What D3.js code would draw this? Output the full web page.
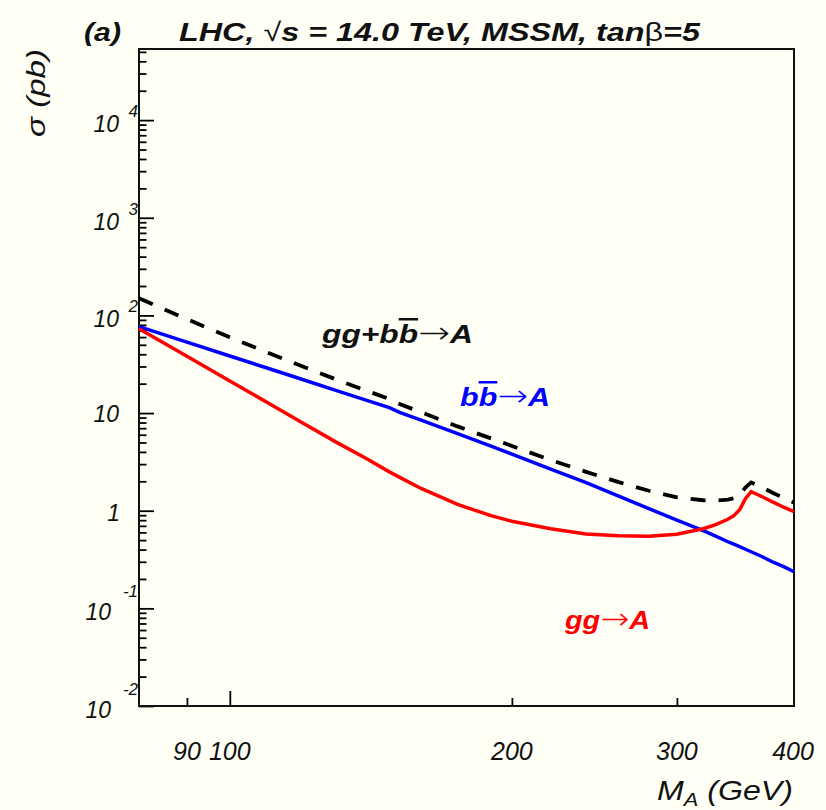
<!DOCTYPE html>
<html><head><meta charset="utf-8">
<script src="https://cdn.jsdelivr.net/npm/d3@7"></script>
<style>body{margin:0;background:#fffff6;} svg{display:block;}</style>
</head><body><svg id="c" width="826" height="810"></svg>
<script>
// ---------------- data ----------------
const massGeV  = [80, 90, 100, 110, 120, 130, 140, 148, 152, 160, 175, 190, 200, 220, 240, 260, 280, 300, 320, 330, 340, 345, 350, 355, 360, 370, 380, 390, 400];
const sigmaBB  = [76.8, 53.3, 38.4, 28.6, 21.8, 17.0, 13.5, 11.36, 10.1, 8.46, 6.15, 4.58, 3.79, 2.66, 1.94, 1.41, 1.05, 0.80, 0.624, 0.548, 0.481, 0.454, 0.428, 0.403, 0.380, 0.338, 0.297, 0.267, 0.237];
const sigmaGG  = [73.2, 38.2, 21.3, 12.6, 7.79, 5.01, 3.41, 2.50, 2.18, 1.69, 1.16, 0.889, 0.779, 0.654, 0.578, 0.554, 0.548, 0.574, 0.654, 0.719, 0.818, 0.889, 1.024, 1.327, 1.566, 1.391, 1.222, 1.086, 0.977];
const sigmaTot = [150, 91.5, 59.7, 41.2, 29.6, 22.0, 16.9, 13.9, 12.3, 10.2, 7.3, 5.5, 4.6, 3.3, 2.5, 1.96, 1.6, 1.37, 1.28, 1.27, 1.30, 1.34, 1.45, 1.73, 1.95, 1.73, 1.52, 1.35, 1.21];
const xTickLabels = [90, 100, 200, 300, 400];
const xMajorTicks = [100];
const xMinorTicks = [90, 200, 300];
const yDecades = [-2, -1, 0, 1, 2, 3, 4];

// ---------------- layout ----------------
const W = 826, H = 810;
const L = 139, R = 794, T = 49, B = 706;
const FONT = "'Liberation Sans', Arial, Helvetica, sans-serif";
const svg = d3.select('#c');
svg.append('rect').attr('width', W).attr('height', H).attr('fill', '#fffff6');

const x = d3.scaleLog().domain([80, 400]).range([L, R]);
const y = d3.scaleLog().domain([0.01, 5.35e4]).range([B, T]);

// minor y ticks
const yMinor = [];
yDecades.forEach(e => { for (let k = 2; k <= 9; k++) { const v = k * Math.pow(10, e); if (v <= y.domain()[1]) yMinor.push(v); } });
const yMajor = yDecades.map(e => Math.pow(10, e));

function styleAxis(g) {
  g.select('.domain').remove();
  g.selectAll('.tick line').attr('stroke', '#000').attr('stroke-width', 1.8);
}
svg.append('g').attr('transform', `translate(${L},0)`)
  .call(d3.axisLeft(y).tickValues(yMajor).tickSize(-15).tickFormat(''))
  .call(styleAxis);
svg.append('g').attr('transform', `translate(${L},0)`)
  .call(d3.axisLeft(y).tickValues(yMinor).tickSize(-7.5).tickFormat(''))
  .call(styleAxis);
svg.append('g').attr('transform', `translate(0,${B})`)
  .call(d3.axisBottom(x).tickValues(xMajorTicks).tickSize(-15).tickFormat(''))
  .call(styleAxis);
svg.append('g').attr('transform', `translate(0,${B})`)
  .call(d3.axisBottom(x).tickValues(xMinorTicks).tickSize(-8).tickFormat(''))
  .call(styleAxis);

// frame
svg.append('rect').attr('x', L).attr('y', T).attr('width', R - L).attr('height', B - T)
  .attr('fill', 'none').attr('stroke', '#111').attr('stroke-width', 2);

// y tick labels
yDecades.forEach(e => {
  const ty = y(Math.pow(10, e));
  const g = svg.append('g').attr('font-family', FONT).attr('font-style', 'italic').attr('fill', '#111');
  if (e === 0) {
    g.append('text').attr('x', 120).attr('y', ty + 10).attr('text-anchor', 'end').attr('font-size', 23).text('1');
  } else if (e === 1) {
    g.append('text').attr('x', 119).attr('y', ty + 9).attr('text-anchor', 'end').attr('font-size', 23).text('10');
  } else if (e > 0) {
    g.append('text').attr('x', 119).attr('y', ty + 12).attr('text-anchor', 'end').attr('font-size', 23).text('10');
    g.append('text').attr('x', 138).attr('y', ty - 3).attr('text-anchor', 'end').attr('font-size', 17).text(String(e));
  } else {
    g.append('text').attr('x', 111).attr('y', ty + 12).attr('text-anchor', 'end').attr('font-size', 23).text('10');
    g.append('text').attr('x', 138).attr('y', ty - 11).attr('text-anchor', 'end').attr('font-size', 17).text(String(e));
  }
});

// x tick labels
svg.append('g').selectAll('text').data(xTickLabels).join('text')
  .attr('x', d => x(d) + (d === 400 ? -1 : 0)).attr('y', 760)
  .attr('text-anchor', 'middle').attr('font-family', FONT).attr('font-style', 'italic')
  .attr('font-size', 25).attr('fill', '#111').text(d => d);

// axis titles
const xt = svg.append('text').attr('x', 657).attr('y', 800).attr('font-family', FONT)
  .attr('font-style', 'italic').attr('font-size', 28).attr('fill', '#111')
  .attr('textLength', 136).attr('lengthAdjust', 'spacingAndGlyphs');
xt.append('tspan').text('M');
xt.append('tspan').attr('font-size', 19).attr('dy', 6).text('A');
xt.append('tspan').attr('dy', -6).text(' (GeV)');

svg.append('text').attr('transform', 'translate(45,137) rotate(-90)')
  .attr('font-family', FONT).attr('font-style', 'italic').attr('font-size', 26).attr('fill', '#111')
  .attr('textLength', 88).attr('lengthAdjust', 'spacingAndGlyphs')
  .text('σ (pb)');

// title
svg.append('text').attr('x', 84).attr('y', 41).attr('font-family', FONT)
  .attr('font-style', 'italic').attr('font-weight', 'bold').attr('font-size', 26).attr('fill', '#111')
  .attr('textLength', 37).attr('lengthAdjust', 'spacingAndGlyphs').text('(a)');
const tt = svg.append('text').attr('x', 179).attr('y', 41).attr('font-family', FONT)
  .attr('font-style', 'italic').attr('font-weight', 'bold').attr('font-size', 26).attr('fill', '#111')
  .attr('textLength', 521).attr('lengthAdjust', 'spacingAndGlyphs');
tt.append('tspan').text('LHC, ');
tt.append('tspan').attr('font-weight', 'normal').attr('font-style', 'normal').text('√');
tt.append('tspan').text('s = 14.0 TeV, MSSM, tan');
tt.append('tspan').attr('font-weight', 'normal').attr('font-style', 'normal').text('β');
tt.append('tspan').text('=5');

// curves
const pts = vals => massGeV.map((m, i) => [m, vals[i]]);
const line = d3.line().x(d => x(d[0])).y(d => y(d[1]));
svg.append('path').attr('d', line(pts(sigmaBB))).attr('fill', 'none').attr('stroke', '#0000ff').attr('stroke-width', 3.5);
svg.append('path').attr('d', line(pts(sigmaGG))).attr('fill', 'none').attr('stroke', '#ff0000').attr('stroke-width', 3.5);
svg.append('path').attr('d', line(pts(sigmaTot))).attr('fill', 'none').attr('stroke', '#000').attr('stroke-width', 3.8)
  .attr('stroke-dasharray', '15,13');

// legend labels
function label(xp, yp, color, parts, len) {
  const t = svg.append('text').attr('x', xp).attr('y', yp).attr('font-family', FONT)
    .attr('font-style', 'italic').attr('font-weight', 'bold').attr('font-size', 25).attr('fill', color)
    .attr('textLength', len).attr('lengthAdjust', 'spacingAndGlyphs');
  parts.forEach(p => {
    const s = t.append('tspan').text(p.t);
    if (p.bar) s.style('text-decoration', 'overline');
    if (p.arrow) s.attr('font-weight', 200).attr('font-style', 'normal')
      .attr('font-family', "'DejaVu Sans', sans-serif").attr('font-size', 30);
  });
}
label(322, 343, '#111', [{t: 'gg+b'}, {t: 'b', bar: true}, {t: '→', arrow: true}, {t: 'A'}], 151);
label(460, 406, '#0000ff', [{t: 'b'}, {t: 'b', bar: true}, {t: '→', arrow: true}, {t: 'A'}], 90);
label(565, 629, '#ff0000', [{t: 'gg'}, {t: '→', arrow: true}, {t: 'A'}], 85);
</script></body></html>
